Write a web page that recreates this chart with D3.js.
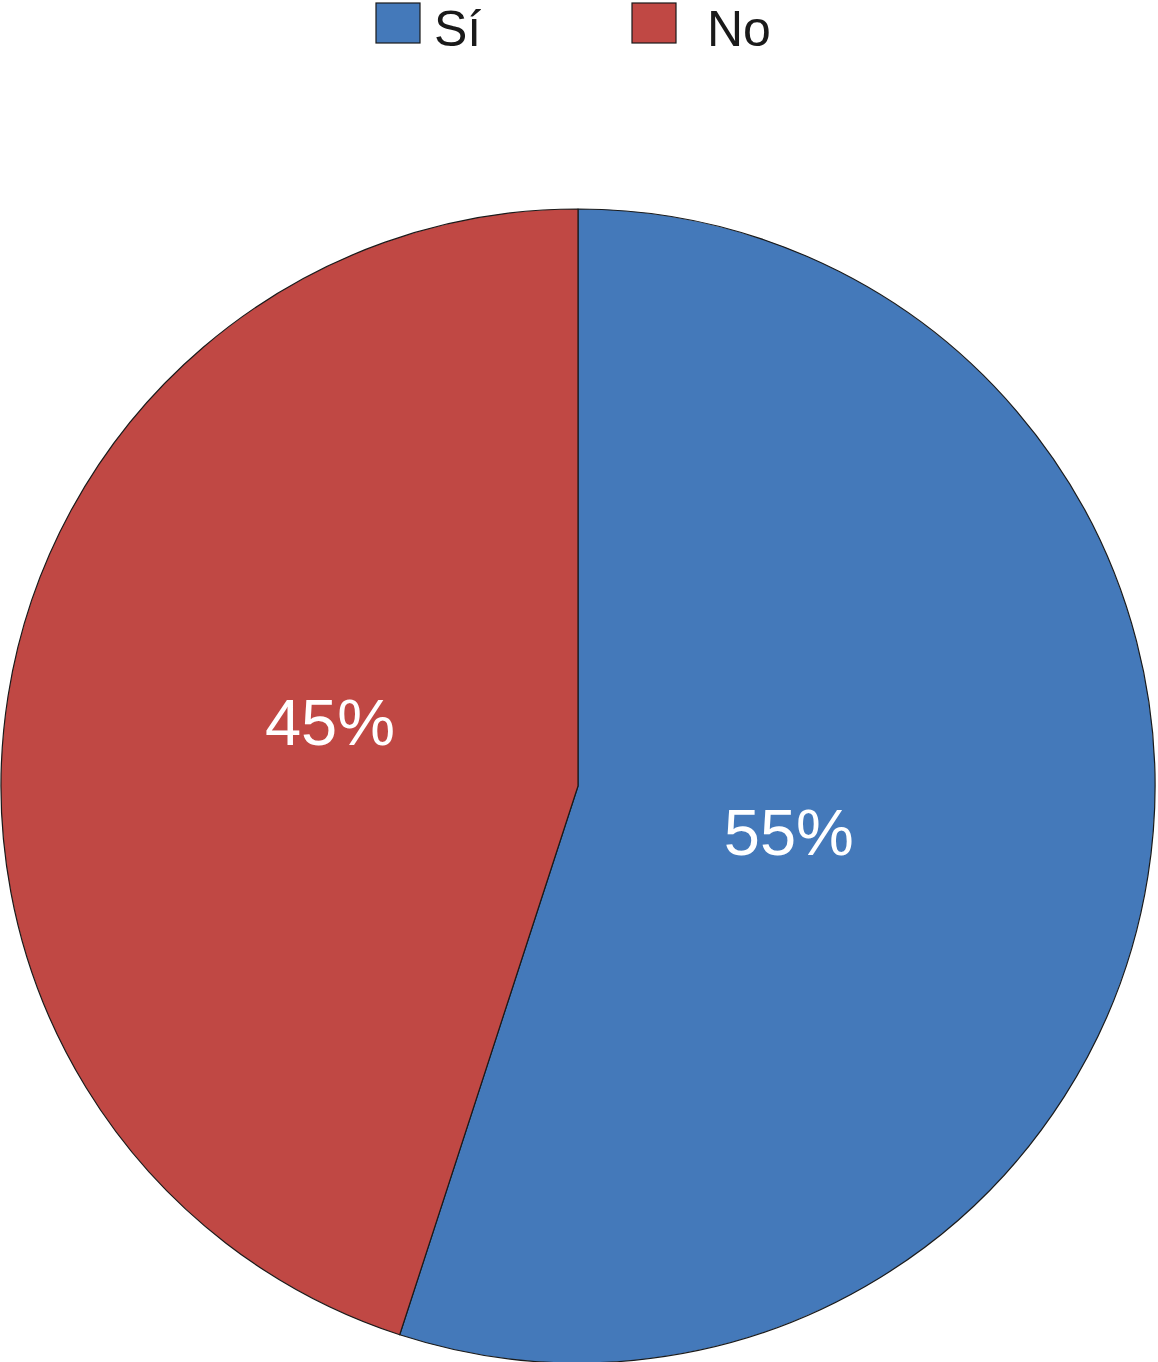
<!DOCTYPE html>
<html>
<head>
  <meta charset="utf-8">
  <title>Pie</title>
  <script src="https://cdn.jsdelivr.net/npm/d3@7"></script>
  <style>
    body { margin: 0; background: #fff; }
    text { font-family: "Liberation Sans", Arial, sans-serif; }
  </style>
</head>
<body>
  <script>
    // data
    const categories = ["Sí", "No"];
    const values = [55, 45];
    const colors = ["#4479BA", "#C04844"];

    const w = 1158;
    const h = 1362;
    const cx = 578, cy = 786, r = 577;

    const svg = d3.select("body").append("svg")
      .attr("width", w)
      .attr("height", h);

    const pie = d3.pie().sort(null).value(d => d.v);
    const arcs = pie(categories.map((c, i) => ({ c: c, v: values[i] })));

    const arc = d3.arc().innerRadius(0).outerRadius(r);
    // label placement per slice: distance (fraction of r) and angle nudge (deg)
    const labelR = [0.374, 0.444];
    const labelNudge = [3.3, 5.5];

    const g = svg.append("g").attr("transform", `translate(${cx},${cy})`);

    g.selectAll("path")
      .data(arcs)
      .enter()
      .append("path")
      .attr("d", arc)
      .attr("fill", (d, i) => colors[i])
      .attr("stroke", "#1a1a1a")
      .attr("stroke-width", 1.2)
      .attr("stroke-linejoin", "round");

    g.selectAll("text.lbl")
      .data(arcs)
      .enter()
      .append("text")
      .attr("class", "lbl")
      .attr("transform", (d, i) => {
        const a = (d.startAngle + d.endAngle) / 2 + labelNudge[i] * Math.PI / 180;
        const rr = labelR[i] * r;
        return `translate(${Math.sin(a) * rr},${-Math.cos(a) * rr})`;
      })
      .attr("text-anchor", "middle")
      .attr("dy", "0.36em")
      .attr("fill", "#fff")
      .attr("font-size", 65)
      .text((d, i) => values[i] + "%");

    // legend
    const legendX = [376, 632];
    const leg = svg.selectAll("g.leg")
      .data(categories)
      .enter()
      .append("g")
      .attr("class", "leg")
      .attr("transform", (d, i) => `translate(${legendX[i]},3)`);

    leg.append("rect")
      .attr("width", 44)
      .attr("height", 40)
      .attr("fill", (d, i) => colors[i])
      .attr("stroke", "#1a1a1a")
      .attr("stroke-width", 1.2);

    leg.append("text")
      .attr("x", (d, i) => i === 0 ? 58 : 75)
      .attr("y", 43)
      .attr("font-size", 50)
      .attr("fill", "#1a1a1a")
      .text(d => d);
  </script>
</body>
</html>
